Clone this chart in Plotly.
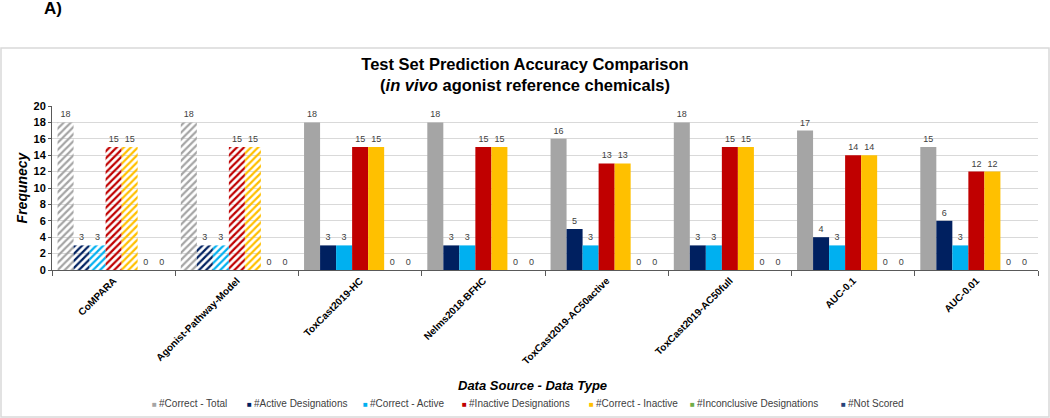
import plotly.graph_objects as go

categories = ["CoMPARA", "Agonist-Pathway-Model", "ToxCast2019-HC", "Nelms2018-BFHC",
              "ToxCast2019-AC50active", "ToxCast2019-AC50full", "AUC-0.1", "AUC-0.01"]
correct_total = [18, 18, 18, 18, 16, 18, 17, 15]
active_designations = [3, 3, 3, 3, 5, 3, 4, 6]
correct_active = [3, 3, 3, 3, 3, 3, 3, 3]
inactive_designations = [15, 15, 15, 15, 13, 15, 14, 12]
correct_inactive = [15, 15, 15, 15, 13, 15, 14, 12]
inconclusive = [0, 0, 0, 0, 0, 0, 0, 0]
not_scored = [0, 0, 0, 0, 0, 0, 0, 0]
hatched = ["/", "/", "", "", "", "", "", ""]

series_names = ["#Correct - Total", "#Active Designations", "#Correct - Active",
                "#Inactive Designations", "#Correct - Inactive",
                "#Inconclusive Designations", "#Not Scored"]
series_values = [correct_total, active_designations, correct_active,
                 inactive_designations, correct_inactive, inconclusive, not_scored]
series_colors = ["#A5A5A5", "#002060", "#00B0F0", "#C00000", "#FFC000", "#70AD47", "#264478"]

FONT = "Liberation Sans, Arial, sans-serif"
W, H = 1050, 418
L, R, T, B = 52, 12, 106, 148
PW, PH = W - L - R, H - T - B


def px(xp):
    return (xp - L) / PW


def py(yp):
    return (H - B - yp) / PH


fig = go.Figure()
for name, vals, col in zip(series_names, series_values, series_colors):
    fig.add_trace(go.Bar(
        x=categories, y=vals, name=name, showlegend=False,
        marker=dict(color=col, line=dict(width=0),
                    pattern=dict(shape=hatched, fillmode="replace", size=5, solidity=0.45)),
        text=[str(v) for v in vals], textposition="outside",
        textfont=dict(size=9, color="#404040", family=FONT),
        cliponaxis=False,
    ))

fig.update_layout(
    width=W, height=H,
    margin=dict(l=L, r=R, t=T, b=B),
    paper_bgcolor="white", plot_bgcolor="white",
    barmode="group", bargap=0.09, bargroupgap=0,
    font=dict(family=FONT, color="#000000"),
    title=dict(
        text="<b>Test Set Prediction Accuracy Comparison<br>(<i>in vivo</i> agonist reference chemicals)</b>",
        x=0.5, xref="container", xanchor="center",
        y=1 - 70 / H, yref="container", yanchor="middle",
        font=dict(size=16.5, family=FONT, color="#000000"),
    ),
    showlegend=False,
)
fig.update_yaxes(
    range=[0, 20], dtick=2, showgrid=True, gridcolor="#D9D9D9", gridwidth=1,
    showline=True, linecolor="#595959", linewidth=1,
    ticks="outside", ticklen=3, tickcolor="#595959",
    tickfont=dict(size=11, family=FONT, color="#000000", weight="bold"),
    title=dict(text="<b><i>Frequnecy</i></b>", font=dict(size=14, family=FONT), standoff=2),
    zeroline=False,
)
fig.update_xaxes(
    showline=True, linecolor="#595959", linewidth=1,
    ticks="outside", ticklen=5, tickcolor="#595959", tickson="boundaries",
    tickangle=-45, tickfont=dict(size=10, family=FONT, color="#000000", weight="bold"),
    showgrid=False,
)
fig.add_annotation(text="<b><i>Data Source - Data Type</i></b>", xref="paper", yref="paper",
                   x=px(532), y=py(385), showarrow=False,
                   font=dict(size=13, family=FONT, color="#000000"),
                   xanchor="center", yanchor="middle")
fig.add_annotation(text="<b>A)</b>", xref="paper", yref="paper",
                   x=px(53), y=py(9), showarrow=False,
                   font=dict(size=17, family=FONT, color="#000000"),
                   xanchor="center", yanchor="middle")

# legend entries (swatch + name), built from the series lists
legend_x = [150, 245, 361, 460, 587, 688, 839]
for name, col, lx in zip(series_names, series_colors, legend_x):
    fig.add_annotation(
        text=f"<span style='color:{col};font-size:8px'>■ </span>{name}",
        xref="paper", yref="paper", x=px(lx), y=py(403), showarrow=False,
        xanchor="left", yanchor="middle",
        font=dict(size=10, family=FONT, color="#404040"))

fig.add_shape(type="rect", xref="paper", yref="paper",
              x0=px(1), x1=px(1049), y0=py(417), y1=py(48),
              line=dict(color="#D9D9D9", width=1.5), fillcolor="rgba(0,0,0,0)", layer="below")
fig.write_html("out.html", config={"displayModeBar": False},
               post_script="document.body.style.margin='0px';")
